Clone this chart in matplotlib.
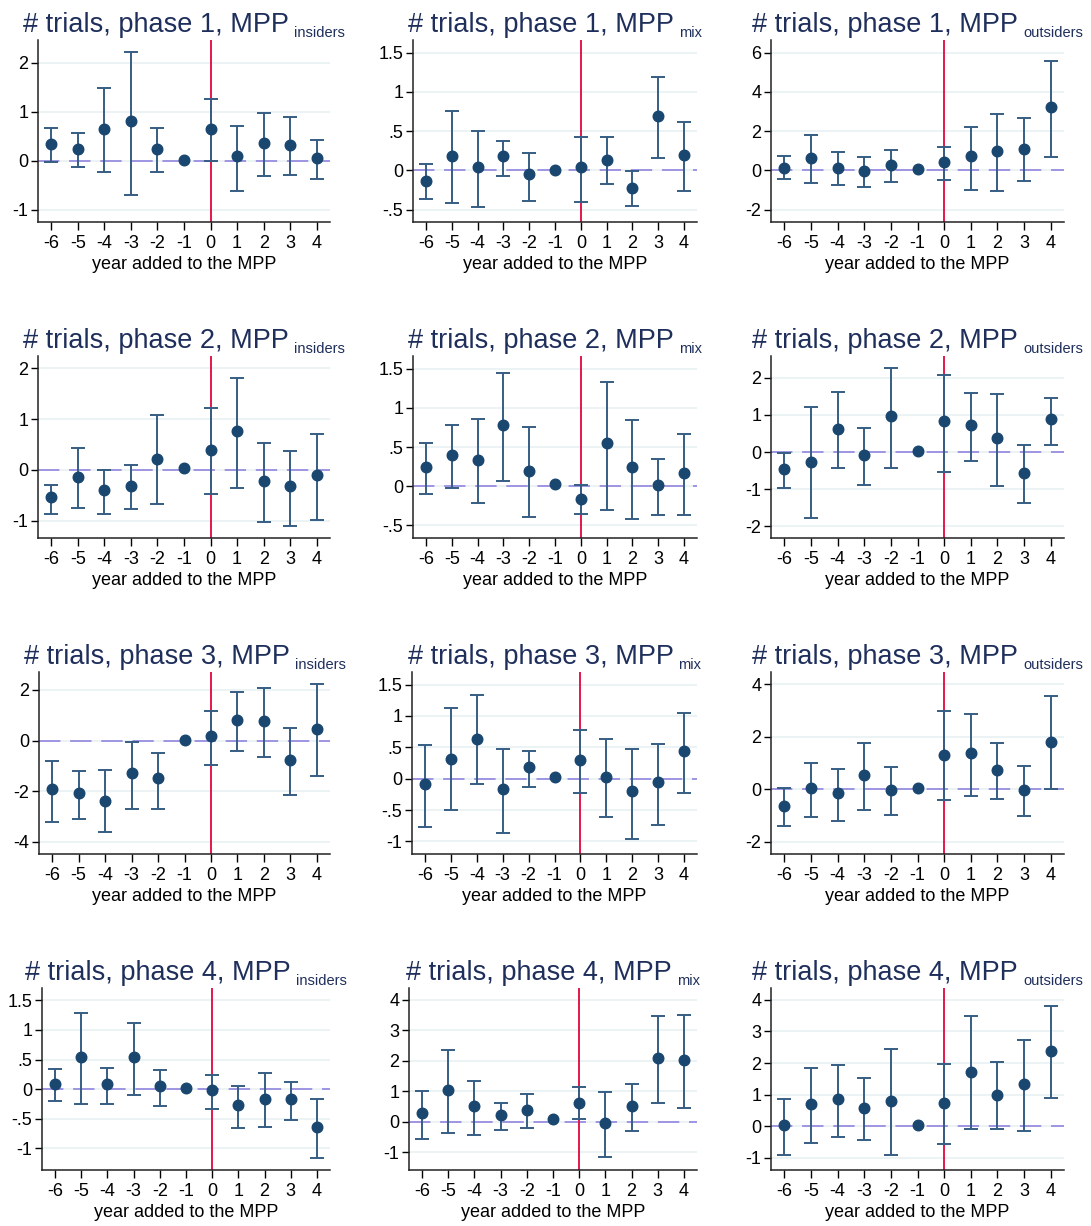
import numpy as np
import matplotlib
matplotlib.use("Agg")
import matplotlib.pyplot as plt
from matplotlib.ticker import MultipleLocator, FuncFormatter

plt.rcParams["font.family"] = ["Liberation Sans", "DejaVu Sans"]
plt.rcParams["axes.unicode_minus"] = False

nan = np.nan
years = [-6, -5, -4, -3, -2, -1, 0, 1, 2, 3, 4]
groups = ["insiders", "mix", "outsiders"]
phases = [1, 2, 3, 4]

# ---- point estimates and 95% CI ----
ph1_ins_b  = [0.35, 0.25, 0.66, 0.81, 0.25, 0.02, 0.66, 0.09, 0.36, 0.32, 0.06]
ph1_ins_lo = [-0.02, -0.13, -0.22, -0.69, -0.22, nan, 0.00, -0.61, -0.31, -0.29, -0.37]
ph1_ins_hi = [0.68, 0.56, 1.49, 2.22, 0.68, nan, 1.27, 0.72, 0.98, 0.89, 0.43]

ph1_mix_b  = [-0.13, 0.18, 0.04, 0.18, -0.05, 0.01, 0.04, 0.13, -0.22, 0.69, 0.20]
ph1_mix_lo = [-0.36, -0.41, -0.47, -0.07, -0.39, nan, -0.40, -0.17, -0.45, 0.16, -0.26]
ph1_mix_hi = [0.08, 0.76, 0.50, 0.38, 0.22, nan, 0.42, 0.42, -0.01, 1.19, 0.61]

ph1_out_b  = [0.14, 0.61, 0.14, -0.03, 0.25, 0.05, 0.42, 0.73, 1.00, 1.08, 3.24]
ph1_out_lo = [-0.46, -0.63, -0.76, -0.86, -0.59, nan, -0.49, -0.98, -1.05, -0.56, 0.68]
ph1_out_hi = [0.71, 1.78, 0.93, 0.66, 1.03, nan, 1.19, 2.20, 2.86, 2.68, 5.59]

ph2_ins_b  = [-0.54, -0.14, -0.39, -0.32, 0.22, 0.04, 0.40, 0.77, -0.22, -0.32, -0.10]
ph2_ins_lo = [-0.87, -0.75, -0.87, -0.77, -0.67, nan, -0.48, -0.35, -1.03, -1.10, -0.99]
ph2_ins_hi = [-0.30, 0.44, -0.01, 0.09, 1.08, nan, 1.22, 1.80, 0.52, 0.37, 0.71]

ph2_mix_b  = [0.24, 0.40, 0.33, 0.78, 0.19, 0.03, -0.16, 0.55, 0.24, 0.01, 0.17]
ph2_mix_lo = [-0.10, -0.02, -0.22, 0.07, -0.39, nan, -0.35, -0.30, -0.42, -0.37, -0.37]
ph2_mix_hi = [0.55, 0.78, 0.86, 1.44, 0.75, nan, 0.01, 1.33, 0.85, 0.35, 0.66]

ph2_out_b  = [-0.46, -0.27, 0.63, -0.07, 0.98, 0.03, 0.83, 0.72, 0.37, -0.57, 0.88]
ph2_out_lo = [-0.96, -1.77, -0.43, -0.89, -0.42, nan, -0.54, -0.24, -0.91, -1.38, 0.20]
ph2_out_hi = [-0.03, 1.22, 1.61, 0.66, 2.27, nan, 2.07, 1.59, 1.57, 0.20, 1.45]

ph3_ins_b  = [-1.93, -2.08, -2.38, -1.29, -1.50, 0.03, 0.17, 0.83, 0.76, -0.78, 0.46]
ph3_ins_lo = [-3.24, -3.11, -3.63, -2.70, -2.70, nan, -0.95, -0.41, -0.67, -2.17, -1.41]
ph3_ins_hi = [-0.80, -1.21, -1.17, -0.07, -0.49, nan, 1.16, 1.93, 2.09, 0.51, 2.24]

ph3_mix_b  = [-0.08, 0.32, 0.64, -0.17, 0.19, 0.03, 0.29, 0.03, -0.20, -0.05, 0.44]
ph3_mix_lo = [-0.77, -0.50, -0.08, -0.87, -0.14, nan, -0.23, -0.61, -0.96, -0.74, -0.23]
ph3_mix_hi = [0.54, 1.13, 1.33, 0.47, 0.44, nan, 0.78, 0.63, 0.48, 0.55, 1.05]

ph3_out_b  = [-0.62, 0.05, -0.15, 0.54, -0.03, 0.06, 1.30, 1.38, 0.73, -0.01, 1.81]
ph3_out_lo = [-1.39, -1.04, -1.20, -0.78, -0.97, nan, -0.41, -0.25, -0.38, -1.01, 0.00]
ph3_out_hi = [0.04, 1.00, 0.78, 1.75, 0.85, nan, 2.97, 2.86, 1.75, 0.89, 3.57]

ph4_ins_b  = [0.08, 0.55, 0.08, 0.55, 0.05, 0.02, -0.02, -0.27, -0.16, -0.16, -0.64]
ph4_ins_lo = [-0.20, -0.25, -0.26, -0.10, -0.28, nan, -0.33, -0.66, -0.64, -0.53, -1.16]
ph4_ins_hi = [0.34, 1.29, 0.35, 1.11, 0.33, nan, 0.24, 0.05, 0.28, 0.12, -0.17]

ph4_mix_b  = [0.27, 1.04, 0.50, 0.21, 0.38, 0.08, 0.62, -0.05, 0.50, 2.08, 2.02]
ph4_mix_lo = [-0.57, -0.36, -0.43, -0.29, -0.22, nan, 0.07, -1.17, -0.32, 0.62, 0.44]
ph4_mix_hi = [0.99, 2.35, 1.33, 0.61, 0.89, nan, 1.12, 0.96, 1.24, 3.46, 3.51]

ph4_out_b  = [0.05, 0.70, 0.87, 0.57, 0.81, 0.05, 0.74, 1.73, 0.98, 1.33, 2.37]
ph4_out_lo = [-0.91, -0.53, -0.34, -0.44, -0.90, nan, -0.55, -0.07, -0.07, -0.14, 0.88]
ph4_out_hi = [0.87, 1.85, 1.94, 1.54, 2.43, nan, 1.96, 3.48, 2.03, 2.72, 3.81]

panels = [
    (ph1_ins_b, ph1_ins_lo, ph1_ins_hi), (ph1_mix_b, ph1_mix_lo, ph1_mix_hi), (ph1_out_b, ph1_out_lo, ph1_out_hi),
    (ph2_ins_b, ph2_ins_lo, ph2_ins_hi), (ph2_mix_b, ph2_mix_lo, ph2_mix_hi), (ph2_out_b, ph2_out_lo, ph2_out_hi),
    (ph3_ins_b, ph3_ins_lo, ph3_ins_hi), (ph3_mix_b, ph3_mix_lo, ph3_mix_hi), (ph3_out_b, ph3_out_lo, ph3_out_hi),
    (ph4_ins_b, ph4_ins_lo, ph4_ins_hi), (ph4_mix_b, ph4_mix_lo, ph4_mix_hi), (ph4_out_b, ph4_out_lo, ph4_out_hi),
]

# axis ranges and tick steps per panel
ylims = [(-1.25, 2.47), (-0.657, 1.66), (-2.63, 6.64),
         (-1.34, 2.24), (-0.66, 1.66), (-2.32, 2.59),
         (-4.49, 2.71), (-1.20, 1.70), (-2.46, 4.47),
         (-1.37, 1.71), (-1.59, 4.38), (-1.38, 4.37)]
ysteps = [1, 0.5, 2, 1, 0.5, 1, 2, 0.5, 2, 0.5, 1, 1]

# layout (pixels)
W, H = 1091, 1226
lefts = [[38, 413, 771], [38, 413, 771], [39, 412, 771], [42, 409, 771]]
rights = [330, 697, 1064]
tops = [40, 356, 672, 988]
ax_h = 182

NAVY = "#1a476f"
BAR = "#365d84"
ZERO = "#9d95e2"
RED = "#e3174a"
GRID = "#eaf2f3"
TITLE = "#1f2f5c"


def stata_fmt(v, pos):
    if abs(v) < 1e-9:
        return "0"
    s = f"{v:g}"
    if abs(v) < 1:
        s = s.replace("0.", ".", 1)
    return s


fig = plt.figure(figsize=(W / 100, H / 100), dpi=100)
fig.patch.set_facecolor("white")

title_pairs = []
for i, (b, lo, hi) in enumerate(panels):
    r, c = divmod(i, 3)
    l, rt, t = lefts[r][c], rights[c], tops[r]
    ax = fig.add_axes([l / W, 1 - (t + ax_h) / H, (rt - l) / W, ax_h / H])
    x = np.array(years, dtype=float)
    b = np.array(b, dtype=float)
    lo = np.array(lo, dtype=float)
    hi = np.array(hi, dtype=float)

    ax.set_xlim(-6.5, 4.5)
    ax.set_ylim(*ylims[i])
    ax.yaxis.set_major_locator(MultipleLocator(ysteps[i]))
    ax.yaxis.set_major_formatter(FuncFormatter(stata_fmt))
    ax.set_xticks(years)
    ax.grid(axis="y", color=GRID, lw=1.3, zorder=0)
    ax.set_axisbelow(True)

    ax.axhline(0, color=ZERO, lw=1.4, dashes=(11, 5), zorder=1)
    ax.axvline(0, color=RED, lw=1.4, zorder=2)
    m = np.isfinite(lo)
    ax.errorbar(x[m], b[m], yerr=[b[m] - lo[m], hi[m] - b[m]], fmt="none",
                ecolor=BAR, elinewidth=1.4, capsize=5.2, capthick=1.4, zorder=3)
    ax.plot(x, b, "o", color=NAVY, ms=7.6, zorder=4)

    for s in ["top", "right"]:
        ax.spines[s].set_visible(False)
    for s in ["left", "bottom"]:
        ax.spines[s].set_color("#222222")
        ax.spines[s].set_linewidth(1.1)
    ax.tick_params(axis="y", direction="out", length=5, width=1, labelsize=13, pad=2)
    ax.tick_params(axis="x", direction="out", length=5.5, width=1, labelsize=13, pad=4)
    ax.set_xlabel("year added to the MPP", fontsize=13, labelpad=3)

    cx = (l + rt) / 2
    t1 = fig.text(0, 1 - (t - 8) / H, f"# trials, phase {phases[r]}, MPP",
                  fontsize=19.5, color=TITLE, va="baseline", ha="left")
    t2 = fig.text(0, 1 - (t - 3) / H, groups[c],
                  fontsize=10.5, color=TITLE, va="baseline", ha="left")
    title_pairs.append((t1, t2, cx))

fig.canvas.draw()
rend = fig.canvas.get_renderer()
for t1, t2, cx in title_pairs:
    w1 = t1.get_window_extent(rend).width
    w2 = t2.get_window_extent(rend).width
    gap = 5
    x0 = cx - (w1 + gap + w2) / 2
    t1.set_x(x0 / W)
    t2.set_x((x0 + w1 + gap) / W)

fig.savefig("out.png", dpi=100, facecolor="white")
